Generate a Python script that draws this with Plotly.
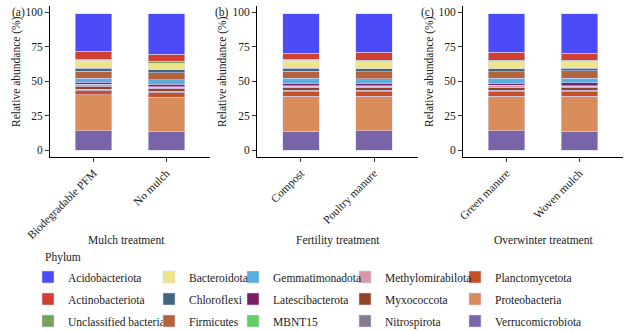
import plotly.graph_objects as go

# ---- data ----
panels = ["a", "b", "c"]
panel_categories = {
    "a": ["Biodegradable PFM", "No mulch"],
    "b": ["Compost", "Poultry manure"],
    "c": ["Green manure", "Woven mulch"],
}
panel_titles = {"a": "Mulch treatment", "b": "Fertility treatment", "c": "Overwinter treatment"}

# stacking order bottom -> top
phyla = ["Verrucomicrobiota", "Proteobacteria", "Planctomycetota", "Nitrospirota",
         "Myxococcota", "Methylomirabilota", "MBNT15", "Latescibacterota",
         "Gemmatimonadota", "Firmicutes", "Chloroflexi", "Bacteroidota",
         "Unclassified bacteria", "Actinobacteriota", "Acidobacteriota"]

colors = ["#7A64A8", "#D98D5A", "#C94F26", "#857A8E",
          "#8E4426", "#D896A8", "#62CF62", "#7A1F66",
          "#5AAEDD", "#B5633A", "#436480", "#EEE58A",
          "#78A05A", "#D13F33", "#4B4BF8"]

# relative abundance (%) per bar, same order as phyla
values = {
    "Biodegradable PFM": [13.9, 26.2, 3.0, 1.1, 2.0, 1.1, 0.5, 1.4, 2.9, 5.3, 2.2, 5.6, 0.9, 5.5, 27.5],
    "No mulch":          [13.2, 25.2, 3.2, 1.0, 2.0, 1.0, 0.5, 1.7, 3.4, 5.0, 2.0, 5.0, 1.2, 5.3, 29.4],
    "Compost":           [13.7, 25.5, 3.3, 1.1, 1.8, 1.0, 0.5, 1.6, 3.6, 5.1, 2.2, 5.7, 1.0, 4.3, 28.7],
    "Poultry manure":    [13.9, 25.3, 3.1, 1.0, 2.1, 1.0, 0.5, 1.6, 3.2, 5.3, 1.9, 5.5, 1.0, 5.5, 28.2],
    "Green manure":      [13.9, 25.3, 3.0, 1.1, 1.9, 1.5, 0.4, 1.3, 3.7, 4.9, 1.9, 5.5, 1.0, 5.5, 28.2],
    "Woven mulch":       [13.7, 25.5, 3.3, 1.0, 2.1, 0.8, 0.5, 2.1, 3.1, 5.6, 1.7, 5.0, 1.0, 5.0, 28.7],
}

# legend columns (each column is its own legend), listed top -> bottom
legend_columns = [
    ["Acidobacteriota", "Actinobacteriota", "Unclassified bacteria"],
    ["Bacteroidota", "Chloroflexi", "Firmicutes"],
    ["Gemmatimonadota", "Latescibacterota", "MBNT15"],
    ["Methylomirabilota", "Myxococcota", "Nitrospirota"],
    ["Planctomycetota", "Proteobacteria", "Verrucomicrobiota"],
]

yticks = [0, 25, 50, 75, 100]

# ---- figure ----
W, H = 638, 331
FONT = "Liberation Serif, Times New Roman, serif"
fs = 11.5
TXT = "#1a1a1a"

def px_x(p):
    return p / W

def px_y(p):
    return 1 - p / H

x_domains = [[px_x(50), px_x(210)], [px_x(257), px_x(418)], [px_x(463), px_x(623)]]
y_domain = [px_y(157), px_y(6)]

legend_of, rank_of = {}, {}
for i, col in enumerate(legend_columns):
    for r, name in enumerate(col):
        legend_of[name] = "legend" if i == 0 else f"legend{i+1}"
        rank_of[name] = (r + 1) * 10

fig = go.Figure()
for pi, p in enumerate(panels):
    cats = panel_categories[p]
    xa = "x" if pi == 0 else f"x{pi+1}"
    ya = "y" if pi == 0 else f"y{pi+1}"
    for k, name in enumerate(phyla):
        fig.add_trace(go.Bar(
            x=cats,
            y=[values[c][k] for c in cats],
            name=name,
            marker=dict(color=colors[k], line=dict(color="rgba(215,215,250,0.9)", width=0.6)),
            width=0.5,
            xaxis=xa, yaxis=ya,
            legendgroup=name,
            legend=legend_of[name],
            legendrank=rank_of[name],
            showlegend=(pi == 0),
            hoverinfo="skip",
        ))

layout = dict(
    width=W, height=H,
    margin=dict(l=0, r=0, t=0, b=0, autoexpand=False),
    barmode="stack",
    plot_bgcolor="white", paper_bgcolor="white",
    font=dict(family=FONT, size=fs, color=TXT),
    annotations=[],
)

for pi, p in enumerate(panels):
    sfx = "" if pi == 0 else str(pi + 1)
    layout["xaxis" + sfx] = dict(
        domain=x_domains[pi], type="category",
        categoryorder="array", categoryarray=panel_categories[p],
        range=[-0.6, 1.6],
        showline=True, linecolor="black", linewidth=1,
        ticks="outside", ticklen=4, tickcolor="#333", tickwidth=1,
        tickangle=-45, tickfont=dict(family=FONT, size=fs, color=TXT),
        showgrid=False, zeroline=False, fixedrange=True, automargin=False,
        anchor="y" + sfx,
    )
    layout["yaxis" + sfx] = dict(
        domain=y_domain, range=[-5, 104.6],
        tickvals=yticks, ticktext=[str(t) for t in yticks],
        showline=True, linecolor="black", linewidth=1,
        ticks="outside", ticklen=4, tickcolor="#333", tickwidth=1,
        tickfont=dict(family=FONT, size=fs, color=TXT),
        showgrid=False, zeroline=False, fixedrange=True, automargin=False,
        anchor="x" + sfx,
    )

# panel labels, y titles, x titles
label_x = [18, 222, 428]
ytitle_x = [17, 223, 430]
xtitle_x = [126, 338, 543]
for pi, p in enumerate(panels):
    layout["annotations"].append(dict(
        text=f"({p})", x=px_x(label_x[pi]), y=px_y(12), xref="paper", yref="paper",
        showarrow=False, xanchor="center", yanchor="middle",
        font=dict(family=FONT, size=fs, color=TXT)))
    layout["annotations"].append(dict(
        text="Relative abundance (%)", x=px_x(ytitle_x[pi]), y=px_y(72), xref="paper", yref="paper",
        showarrow=False, textangle=-90, xanchor="center", yanchor="middle",
        font=dict(family=FONT, size=fs, color=TXT)))
    layout["annotations"].append(dict(
        text=panel_titles[p], x=px_x(xtitle_x[pi]), y=px_y(240), xref="paper", yref="paper",
        showarrow=False, xanchor="center", yanchor="middle",
        font=dict(family=FONT, size=fs, color=TXT)))

layout["annotations"].append(dict(
    text="Phylum", x=px_x(43), y=px_y(257), xref="paper", yref="paper",
    showarrow=False, xanchor="left", yanchor="middle",
    font=dict(family=FONT, size=fs, color=TXT)))

legend_x = [28, 149, 233, 345, 455]
for i in range(len(legend_columns)):
    key = "legend" if i == 0 else f"legend{i+1}"
    layout[key] = dict(
        x=px_x(legend_x[i]), y=px_y(262.5), xanchor="left", yanchor="top",
        xref="paper", yref="paper",
        orientation="v", traceorder="grouped", tracegroupgap=3,
        bgcolor="rgba(0,0,0,0)", borderwidth=0,
        font=dict(family=FONT, size=fs, color=TXT),
    )

fig.update_layout(**layout)
fig.write_html("out.html")
